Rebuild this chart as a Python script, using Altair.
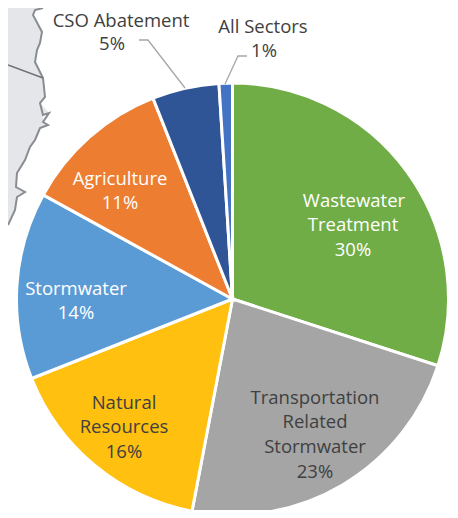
import altair as alt
import pandas as pd

sectors = ["Wastewater Treatment", "Transportation Related Stormwater", "Natural Resources",
           "Stormwater", "Agriculture", "CSO Abatement", "All Sectors"]
shares = [30, 23, 16, 14, 11, 5, 1]
colors = ["#70AD47", "#A5A5A5", "#FFC010", "#5B9BD5", "#ED7D31", "#2F5597", "#4472C4"]

label_lines = ["Wastewater", "Treatment", "30%", "Transportation", "Related", "Stormwater", "23%",
               "Natural", "Resources", "16%", "Stormwater", "14%", "Agriculture", "11%",
               "CSO Abatement", "5%", "All Sectors", "1%"]
label_x = [354, 353, 353, 315, 315, 315, 315, 124, 124, 124, 76, 76, 120, 120, 121, 112, 263, 264]
label_y = [200, 224, 249, 397, 421, 446, 471, 402, 426, 451, 288, 312, 178, 202, 20, 43, 26, 50]
label_col = ["#FFFFFF"] * 3 + ["#404040"] * 7 + ["#FFFFFF"] * 4 + ["#404040"] * 4

lead_x = [139, 148, 185, 247, 238, 225]
lead_y = [40, 40, 88, 56, 56, 84]
lead_id = ["a", "a", "a", "b", "b", "b"]

coast_x = [43, 35, 33, 42, 40, 37, 35, 43, 45, 40, 43, 49, 43, 48, 40, 35, 30, 25, 17, 16, 25, 17, 15, 8]
coast_y = [8, 10, 15, 32, 43, 50, 62, 78, 97, 103, 115, 113, 122, 125, 128, 140, 147, 160, 173, 187, 192, 197, 210, 225]
border_x = [8, 43]
border_y = [65, 78]

xs = alt.Scale(domain=[8, 450], range=[0, 442], nice=False, zero=False)
ys = alt.Scale(domain=[8, 510], range=[0, 502], nice=False, zero=False)
X = alt.X("x:Q", scale=xs, axis=None, stack=None)
Y = alt.Y("y:Q", scale=ys, axis=None)

coast = pd.DataFrame({"x": coast_x, "y": coast_y, "o": range(len(coast_x)), "x0": [8] * len(coast_x)})
land = alt.Chart(coast).mark_area(orient="horizontal", color="#E4E6E9").encode(
    x=X, x2="x0:Q", y=Y)
shore = alt.Chart(coast).mark_line(color="#8A8D90", strokeWidth=2).encode(x=X, y=Y, order="o:Q")
border = alt.Chart(pd.DataFrame({"x": border_x, "y": border_y})).mark_line(
    color="#707275", strokeWidth=1.6).encode(x=X, y=Y)

pie_df = pd.DataFrame({"sector": sectors, "share": shares, "o": range(len(sectors))})
pie = alt.Chart(pie_df).mark_arc(outerRadius=216, stroke="#FFFFFF", strokeWidth=3).encode(
    theta=alt.Theta("share:Q", stack=True, scale=alt.Scale(domain=[0, 100], range=[0, 6.2832])),
    order="o:Q",
    color=alt.Color("sector:N", scale=alt.Scale(domain=sectors, range=colors), legend=None),
    x=alt.value(224.5), y=alt.value(291))

leaders = alt.Chart(pd.DataFrame({"x": lead_x, "y": lead_y, "id": lead_id, "o": range(6)})).mark_line(
    color="#A6A6A6", strokeWidth=1.3).encode(x=X, y=Y, detail="id:N", order="o:Q")

texts = alt.Chart(pd.DataFrame({"x": label_x, "y": label_y, "t": label_lines, "c": label_col})).mark_text(
    font="Open Sans", fontSize=18.5, align="center", baseline="middle", dy=0.5).encode(
    x=X, y=Y, text="t:N", color=alt.Color("c:N", scale=None))

chart = alt.layer(land, shore, border, pie, leaders, texts).resolve_scale(color="independent").properties(
    width=442, height=502, padding=0, autosize=alt.AutoSizeParams(type="none")
).configure_view(stroke=None)
chart.save("out.html", embed_options={"renderer": "svg", "actions": False})
